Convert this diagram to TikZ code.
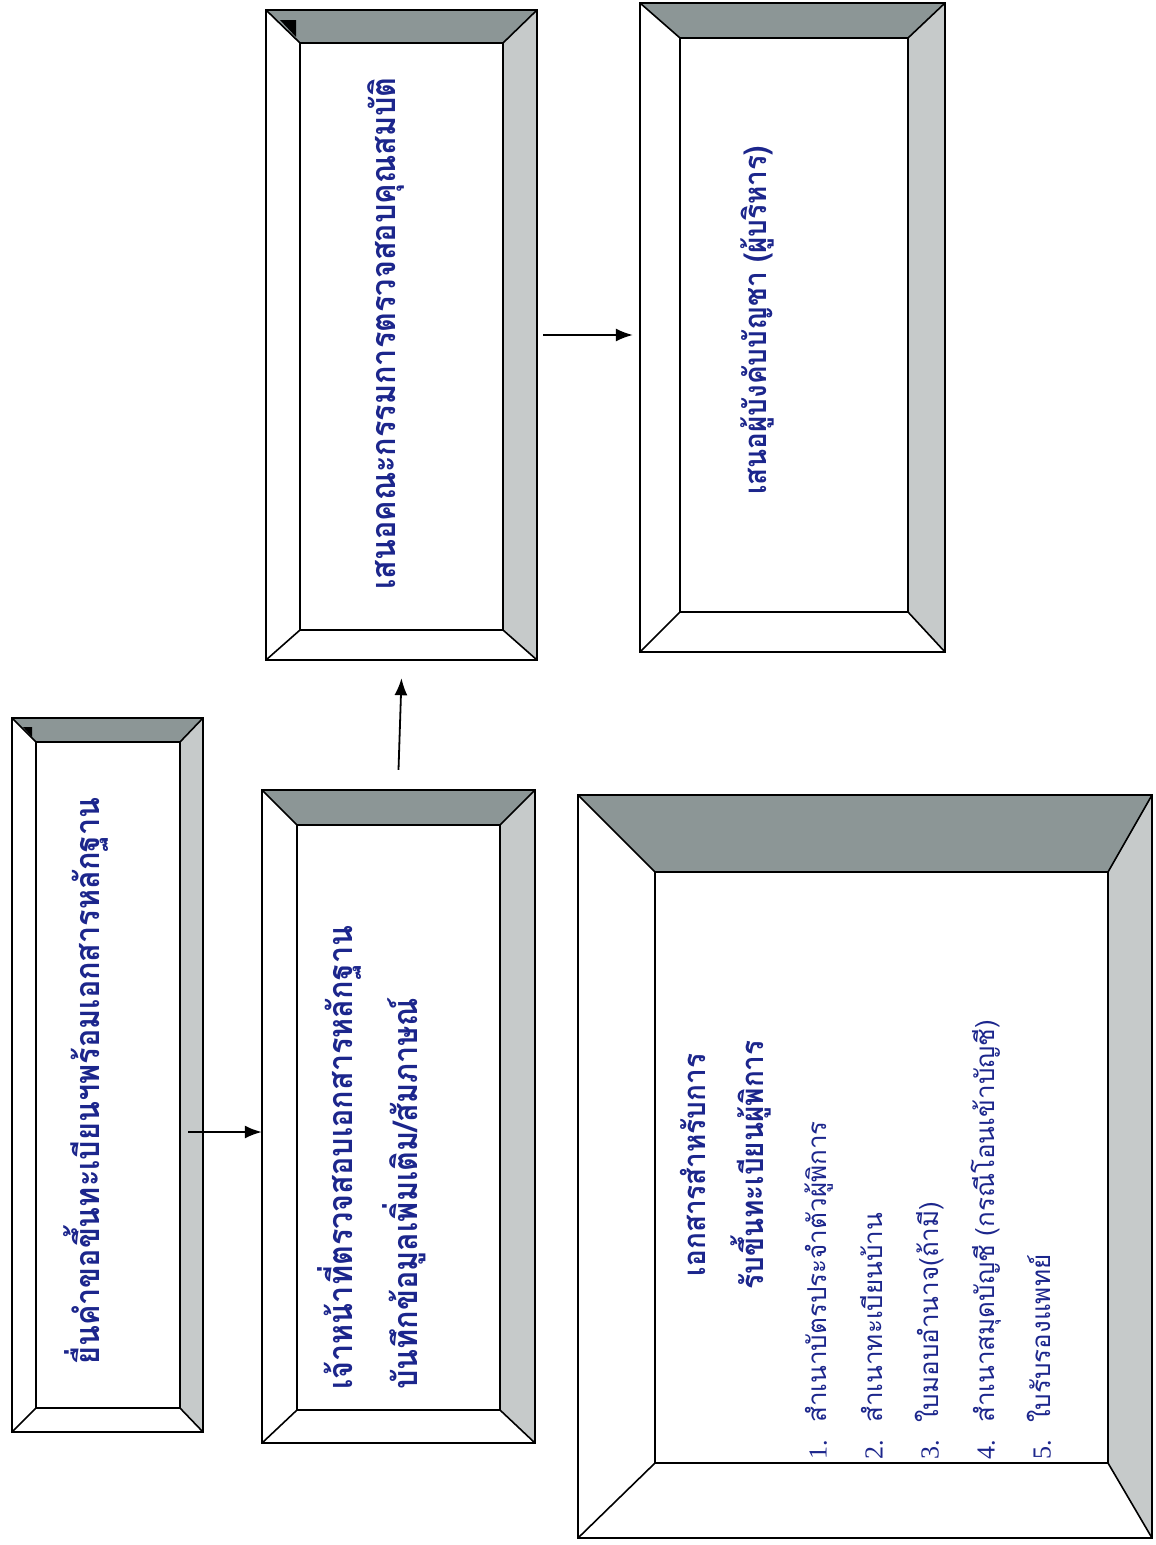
\documentclass[tikz,border=0pt]{standalone}
\usepackage{fontspec}
\setmainfont{Liberation Serif}
\newfontfamily\thaifont[Script=Thai]{Loma}
\newfontfamily\thaicond[Script=Thai,FakeStretch=0.9]{Loma}
\usetikzlibrary{arrows.meta,fit}
\definecolor{textblue}{RGB}{28,38,140}
\definecolor{banddark}{RGB}{140,150,150}
\definecolor{bandlight}{RGB}{198,202,202}
\tikzset{
  frame/.style={line width=1.6pt, line join=miter},
  boxtext/.style={rotate=90, inner sep=0pt, align=left, text=textblue,
    font=\thaicond\bfseries\fontsize{34}{65}\selectfont},
  listtext/.style={rotate=90, inner sep=0pt, align=left, text=textblue,
    font=\thaifont\fontsize{26}{56}\selectfont},
  arr/.style={-{Latex[length=17pt,width=13pt]}, line width=1.8pt}
}
% cadre en relief : nom, coin ext. (x1,y1) (x2,y2), coin int. (x1,y1) (x2,y2)
\newcommand{\cadre}[9]{%
  \fill[banddark] (#2,#3) -- (#4,#3) -- (#8,#7) -- (#6,#7) -- cycle;
  \fill[bandlight] (#4,#3) -- (#4,#5) -- (#8,#9) -- (#8,#7) -- cycle;
  \draw[frame] (#2,#3) rectangle (#4,#5) (#6,#7) rectangle (#8,#9)
    (#2,#3) -- (#6,#7) (#4,#3) -- (#8,#7) (#4,#5) -- (#8,#9) (#2,#5) -- (#6,#9);
  \node[inner sep=0pt, fit={(#2,#3) (#4,#5)}] (#1) {};
}
\begin{document}
\begin{tikzpicture}[x=1pt,y=-1pt]
  \useasboundingbox (0,0) rectangle (1156,1545);
  \fill[white] (0,0) rectangle (1156,1545);
  \cadre{b1}{12}{718}{203}{1432}{36}{742}{180}{1408}
  \cadre{b2}{262}{790}{535}{1443}{297}{825}{500}{1410}
  \cadre{b3}{266}{10}{537}{660}{300}{43}{503}{630}
  \cadre{b4}{640}{3}{945}{652}{680}{38}{908}{612}
  \cadre{b5}{578}{795}{1152}{1538}{655}{872}{1108}{1463}
  % petits coins noirs
  \fill (23,727) -- (32,727) -- (32,737) -- cycle;
  \fill (280,20) -- (296,20) -- (296,37) -- cycle;
  \node[boxtext, anchor=west] (t1) at (86,1365) {ยื่นคำขอขึ้นทะเบียนฯพร้อมเอกสารหลักฐาน};
  \node[boxtext, anchor=west] (t2) at (372,1390) {เจ้าหน้าที่ตรวจสอบเอกสารหลักฐาน\\บันทึกข้อมูลเพิ่มเติม/สัมภาษณ์};
  \node[boxtext, anchor=west] (t3) at (386,590) {เสนอคณะกรรมการตรวจสอบคุณสมบัติ};
  \node[boxtext, anchor=west, font=\thaicond\bfseries\fontsize{31}{40}\selectfont] (t4) at (757,495) {เสนอผู้บังคับบัญชา (ผู้บริหาร)};
  \node[boxtext, align=center, font=\thaicond\bfseries\fontsize{31}{58}\selectfont] (t5) at (726,1165) {เอกสารสำหรับการ\\รับขึ้นทะเบียนผู้พิการ};
  \node[listtext, anchor=west] (t6) at (928,1460) {{\rmfamily 1.}\ \ สำเนาบัตรประจำตัวผู้พิการ\\
    {\rmfamily 2.}\ \ สำเนาทะเบียนบ้าน\\
    {\rmfamily 3.}\ \ ใบมอบอำนาจ(ถ้ามี)\\
    {\rmfamily 4.}\ \ สำเนาสมุดบัญชี (กรณีโอนเข้าบัญชี)\\
    {\rmfamily 5.}\ \ ใบรับรองแพทย์};
  \coordinate (s1) at ([xshift=-15pt,yshift=-57pt]b1.east);
  \draw[arr] (s1) -- (s1 -| b2.west);
  \draw[arr] ([yshift=20pt]b2.north) -- ([yshift=-18pt]b3.south);
  \draw[arr] ([xshift=6pt]b3.east) -- ([xshift=-7pt]b3.east -| b4.west);
\end{tikzpicture}
\end{document}
